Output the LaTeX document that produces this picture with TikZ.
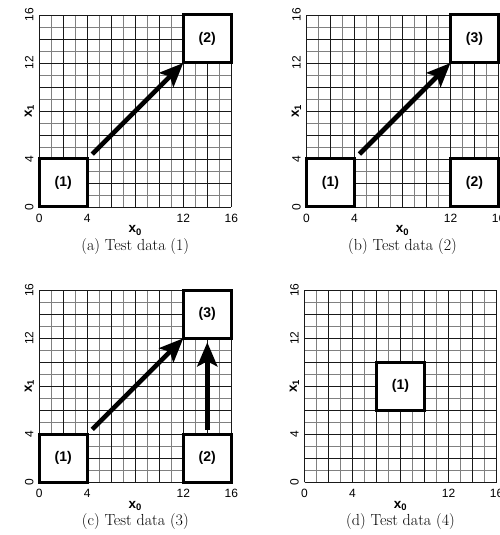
\documentclass[tikz,border=0pt]{standalone}
\usepackage{fontspec}
\setsansfont{Liberation Sans}
\usetikzlibrary{arrows.meta}
\tikzset{
  gridline/.style={line width=0.8pt, draw=black!50},
  gridmajor/.style={line width=0.8pt, draw=black!90},
  blockbox/.style={draw, line width=3pt, fill=white, minimum size=48pt,
    inner sep=0pt, outer sep=0pt, font=\sffamily\bfseries\fontsize{14}{15}\selectfont},
  bigarrow/.style={line width=4.6pt, -{Stealth[length=24pt,width=20pt,inset=5pt]}},
  ticklabel/.style={inner sep=0pt, font=\sffamily\fontsize{12}{13}\selectfont},
  axislabel/.style={inner sep=0pt, font=\sffamily\bfseries\fontsize{13.5}{14}\selectfont},
  captionlabel/.style={inner sep=0pt, font=\fontsize{16}{18}\selectfont},
}
\newcommand{\gridpanel}[2]{%
  \draw[gridline, step=1] (0,0) grid (16,16);
  \draw[gridmajor, step=2] (0,0) grid (16,16);
  \foreach \v in {0,4,12,16} {
    \node[ticklabel] (#1-xt\v) at ([yshift=-11.5pt]\v,0) {\v};
    \node[ticklabel, rotate=90] (#1-yt\v) at ([xshift=-10pt]0,\v) {\v};
  }
  \node[axislabel] (#1-xlab) at ([yshift=-23.5pt]8,0) {x\textsubscript{0}};
  \node[axislabel, rotate=90] (#1-ylab) at ([xshift=-10pt]0,8) {x\textsubscript{1}};
  \node[captionlabel] (#1-cap) at ([yshift=-39.5pt]8,0) {#2};
}
\begin{document}
\begin{tikzpicture}[x=1pt,y=1pt]
\useasboundingbox (0,0) rectangle (500,535);
\clip (0,0) rectangle (500,535);
% (a)
\begin{scope}[shift={(39.3pt,328pt)}, x=12pt, y=12pt]
  \gridpanel{a}{(a) Test data (1)}
  \node[blockbox] (a1) at (2,2) {(1)};
  \node[blockbox] (a2) at (14,14) {(2)};
  \draw[bigarrow, shorten <=7pt] (a1.north east) -- (a2.south west);
\end{scope}
% (b)
\begin{scope}[shift={(306.5pt,328pt)}, x=12pt, y=12pt]
  \gridpanel{b}{(b) Test data (2)}
  \node[blockbox] (b1) at (2,2) {(1)};
  \node[blockbox] (b2) at (14,2) {(2)};
  \node[blockbox] (b3) at (14,14) {(3)};
  \draw[bigarrow, shorten <=7pt] (b1.north east) -- (b3.south west);
\end{scope}
% (c)
\begin{scope}[shift={(39.3pt,52.7pt)}, x=12pt, y=12pt]
  \gridpanel{c}{(c) Test data (3)}
  \node[blockbox] (c1) at (2,2) {(1)};
  \node[blockbox] (c2) at (14,2) {(2)};
  \node[blockbox] (c3) at (14,14) {(3)};
  \draw[bigarrow, shorten <=7pt] (c1.north east) -- (c3.south west);
  \draw[bigarrow, shorten <=4.5pt, shorten >=4pt] (c2.north) -- (c3.south);
\end{scope}
% (d)
\begin{scope}[shift={(304.5pt,52.7pt)}, x=12pt, y=12pt]
  \gridpanel{d}{(d) Test data (4)}
  \node[blockbox] (d1) at (8,8) {(1)};
\end{scope}
\end{tikzpicture}
\end{document}
